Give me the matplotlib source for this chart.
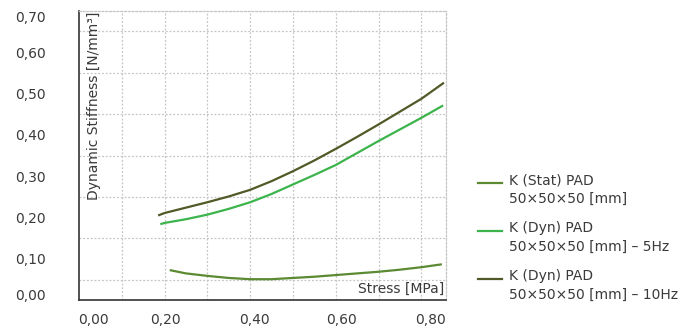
import matplotlib
matplotlib.use("Agg")
import matplotlib.pyplot as plt
from matplotlib.lines import Line2D
import numpy as np

plt.rcParams['font.family'] = ['DejaVu Sans']

# ---- data ----
stat_x = [0.212, 0.25, 0.30, 0.35, 0.40, 0.45, 0.50, 0.55, 0.60, 0.65, 0.70, 0.75, 0.80, 0.848]
stat_y = [0.073, 0.065, 0.059, 0.054, 0.051, 0.051, 0.054, 0.057, 0.061, 0.065, 0.069, 0.074, 0.080, 0.087]

dyn5_x = [0.190, 0.20, 0.25, 0.30, 0.35, 0.40, 0.45, 0.50, 0.55, 0.60, 0.65, 0.70, 0.75, 0.80, 0.851]
dyn5_y = [0.184, 0.187, 0.196, 0.207, 0.221, 0.237, 0.257, 0.280, 0.303, 0.327, 0.356, 0.385, 0.413, 0.441, 0.471]

dyn10_x = [0.185, 0.20, 0.25, 0.30, 0.35, 0.40, 0.45, 0.50, 0.55, 0.60, 0.65, 0.70, 0.75, 0.80, 0.853]
dyn10_y = [0.205, 0.211, 0.224, 0.237, 0.251, 0.267, 0.288, 0.312, 0.338, 0.366, 0.395, 0.425, 0.456, 0.487, 0.526]

series_labels = ["K (Stat) PAD\n50×50×50 [mm]",
                 "K (Dyn) PAD\n50×50×50 [mm] – 5Hz",
                 "K (Dyn) PAD\n50×50×50 [mm] – 10Hz"]
series_colors = ["#5b8a32", "#3cb44b", "#4f5a26"]

x_tick_labels = ["0,00", "0,20", "0,40", "0,60", "0,80"]
y_tick_labels = ["0,00", "0,10", "0,20", "0,30", "0,40", "0,50", "0,60", "0,70"]

TXT = "#3a3a3a"
GRID = "#c4c4c4"

W, H = 695, 329
fig = plt.figure(figsize=(W / 100, H / 100), dpi=100)
ax_l, ax_r, ax_b, ax_t = 79, 445.7, 300.3, 10.7
ax = fig.add_axes([ax_l / W, 1 - ax_b / H, (ax_r - ax_l) / W, (ax_b - ax_t) / H])

for (xs, ys), c in zip([(stat_x, stat_y), (dyn5_x, dyn5_y), (dyn10_x, dyn10_y)], series_colors):
    ax.plot(xs, ys, color=c, lw=1.6, solid_capstyle='butt', zorder=3)

ax.set_xlim(0, 0.857)
ax.set_ylim(0, 0.70)

# gridlines
ax.set_xticks(np.arange(1, 9) * 0.1, minor=True)
ax.set_yticks(np.arange(1, 15) * 0.05, minor=True)
ax.grid(which='minor', color=GRID, lw=0.9, ls=(0, (1.5, 1.5)))
ax.tick_params(which='both', length=0)

# tick labels (positions as displayed)
x_label_pos = [0.0327, 0.2022, 0.4103, 0.6137, 0.8206]
ax.set_xticks(x_label_pos)
ax.set_xticklabels(x_tick_labels, fontsize=10, color=TXT)
ax.tick_params(axis='x', pad=9.5)
ax.set_yticks(np.arange(0, 8) * 0.1)
ax.set_yticklabels(y_tick_labels, fontsize=10, color=TXT, ha='left')
ax.tick_params(axis='y', pad=46)
ylabs = ax.get_yticklabels()
ylabs[0].set_va('baseline')
ylabs[-1].set_va('top')

for s in ['left', 'bottom']:
    ax.spines[s].set_color('#333333')
    ax.spines[s].set_linewidth(1.2)
for s in ['top', 'right']:
    ax.spines[s].set_color(GRID)
    ax.spines[s].set_linewidth(0.9)
    ax.spines[s].set_linestyle((0, (1.5, 1.5)))

ax.text(0.042, 0.997, "Dynamic Stiffness [N/mm³]", transform=ax.transAxes,
        rotation=90, ha='center', va='top', fontsize=10, color=TXT)
ax.text(0.997, 0.025, "Stress [MPa]", transform=ax.transAxes,
        ha='right', va='baseline', fontsize=10, color=TXT)

# legend (manual)
leg_y = [183.3, 231.0, 279.0]
for y, lab, c in zip(leg_y, series_labels, series_colors):
    fig.add_artist(Line2D([478 / W, 501.7 / W], [1 - y / H, 1 - y / H], color=c, lw=1.6))
    fig.text(509 / W, 1 - (y - 10) / H, lab, ha='left', va='top', fontsize=10,
             color=TXT, linespacing=1.45)

fig.savefig("out.png", dpi=100)
